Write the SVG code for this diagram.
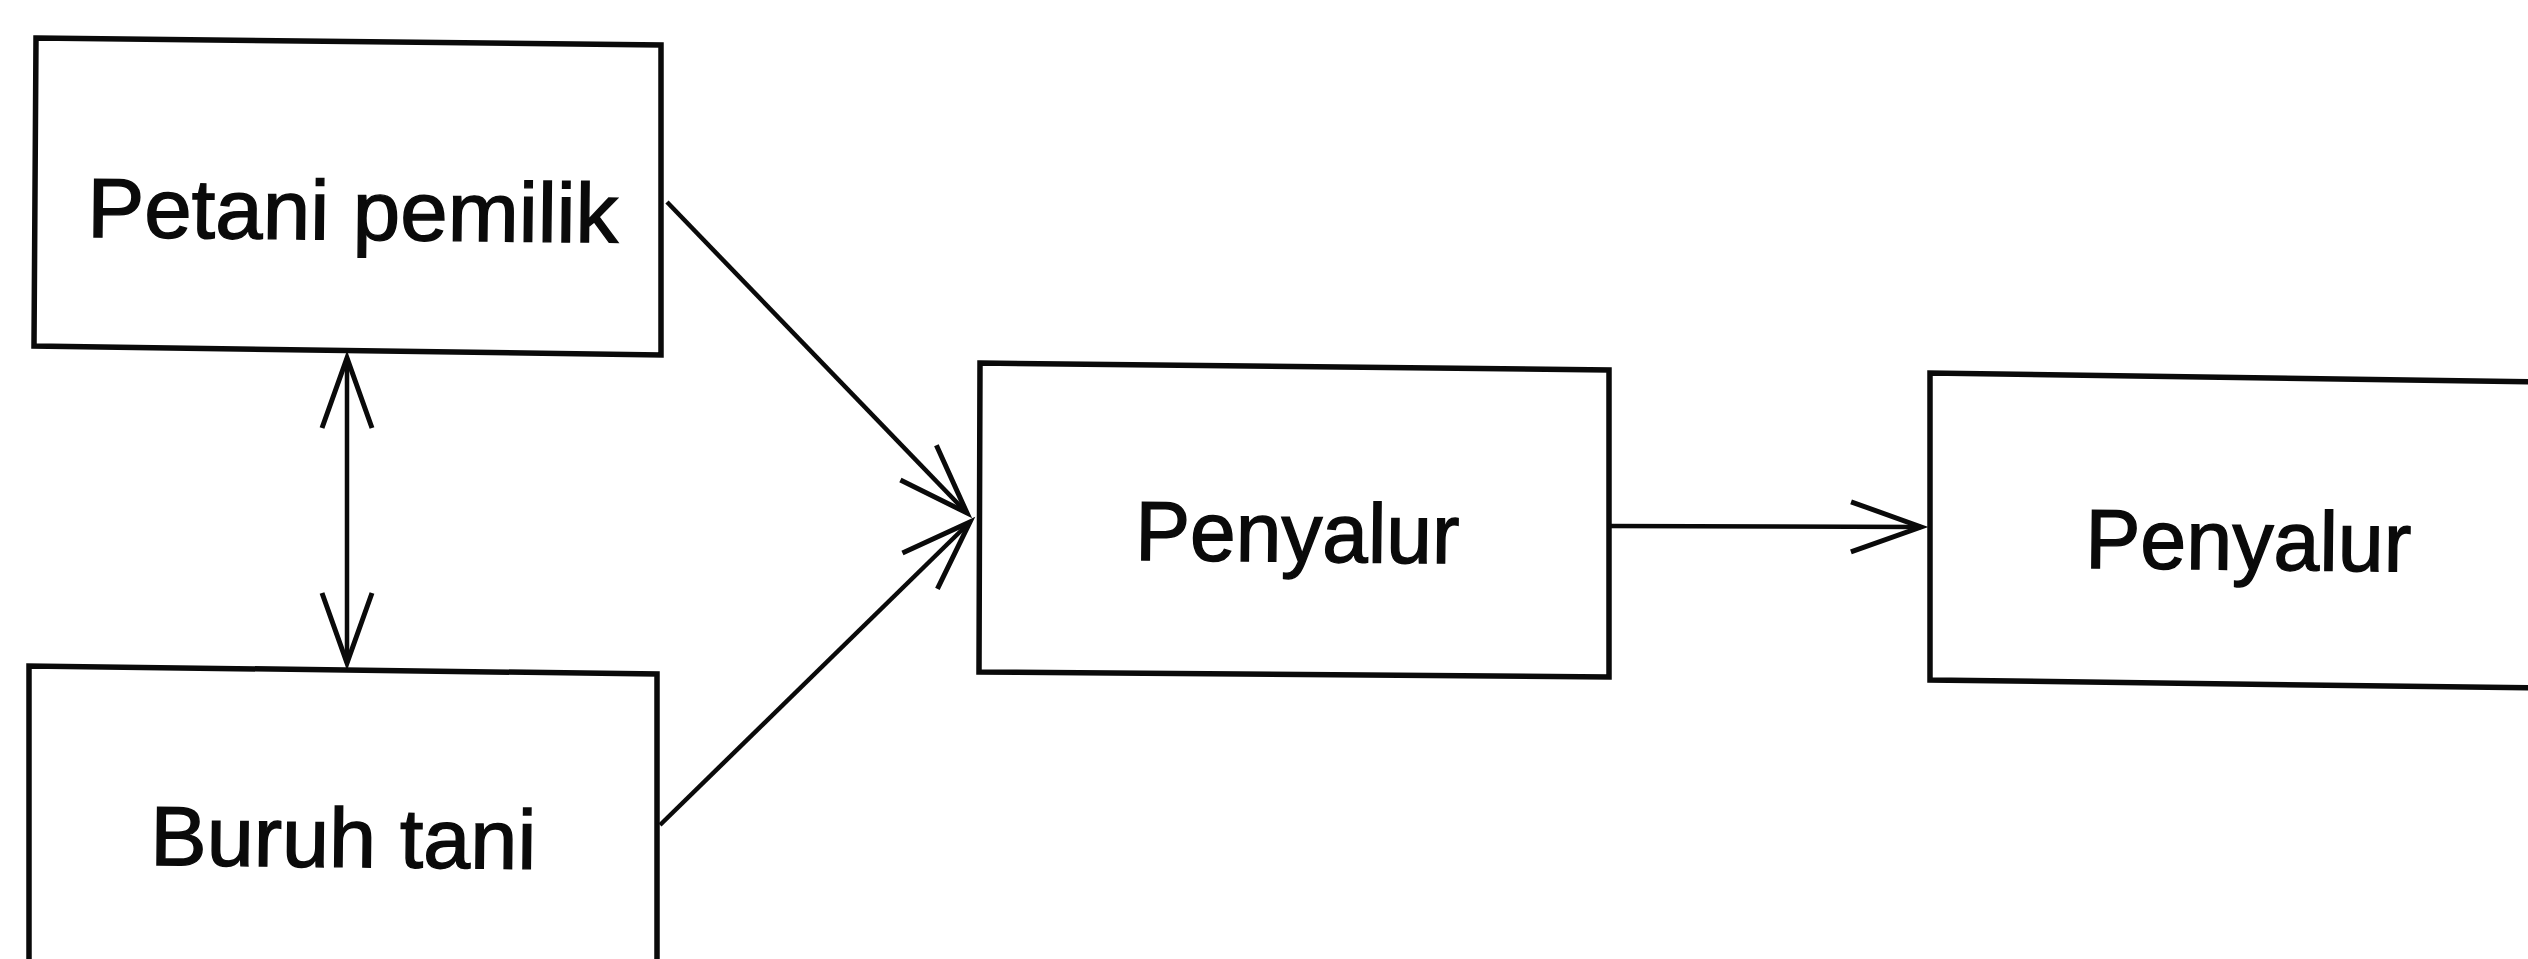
<svg xmlns="http://www.w3.org/2000/svg" width="2528" height="959" viewBox="0 0 2528 959">
  <style>
    .box { fill: #ffffff; stroke: #0a0a0a; stroke-width: 5.5; stroke-linejoin: miter; }
    .label { font-family: "Liberation Sans", Arial, sans-serif; font-size: 84px; fill: #0a0a0a; stroke: #0a0a0a; stroke-width: 1.4; }
    .link { fill: none; stroke: #0a0a0a; stroke-width: 4.5; }
  </style>
  <defs>
    <marker id="openHead" markerUnits="userSpaceOnUse" markerWidth="90" markerHeight="70" viewBox="-80 -35 90 70" refX="0" refY="0" orient="auto-start-reverse">
      <path d="M-70,-25 L0,0 L-70,25" fill="none" stroke="#0a0a0a" stroke-width="5"/>
    </marker>
  </defs>
  <rect width="2528" height="959" fill="#ffffff"/>

  <g id="node-petani-pemilik">
    <polygon class="box" points="36,38 661,45 661,355 34,346"/>
    <text class="label" x="87" y="237" textLength="531" lengthAdjust="spacingAndGlyphs" transform="rotate(0.6 87 237)">Petani pemilik</text>
  </g>

  <g id="node-buruh-tani">
    <path class="box" d="M29,975 L29,666 L657,674 L657,975"/>
    <text class="label" x="150" y="865" textLength="386" lengthAdjust="spacingAndGlyphs" transform="rotate(0.6 150 865)">Buruh tani</text>
  </g>

  <g id="node-penyalur-1">
    <polygon class="box" points="980,363 1609,370 1609,677 979,672"/>
    <text class="label" x="1135" y="560" textLength="324" lengthAdjust="spacingAndGlyphs" transform="rotate(0.6 1135 560)">Penyalur</text>
  </g>

  <g id="node-penyalur-2">
    <path class="box" d="M2540,382 L1930,373 L1930,680 L2540,688"/>
    <text class="label" x="2085" y="568" textLength="326" lengthAdjust="spacingAndGlyphs" transform="rotate(0.6 2085 568)">Penyalur</text>
  </g>

  <g id="connectors">
    <line class="link" x1="347" y1="358" x2="347" y2="663" marker-start="url(#openHead)" marker-end="url(#openHead)"/>
    <line class="link" x1="667" y1="202" x2="967" y2="513" marker-end="url(#openHead)"/>
    <line class="link" x1="660" y1="825" x2="970" y2="522" marker-end="url(#openHead)"/>
    <line class="link" x1="1609" y1="526" x2="1921" y2="527" marker-end="url(#openHead)"/>
  </g>
</svg>
